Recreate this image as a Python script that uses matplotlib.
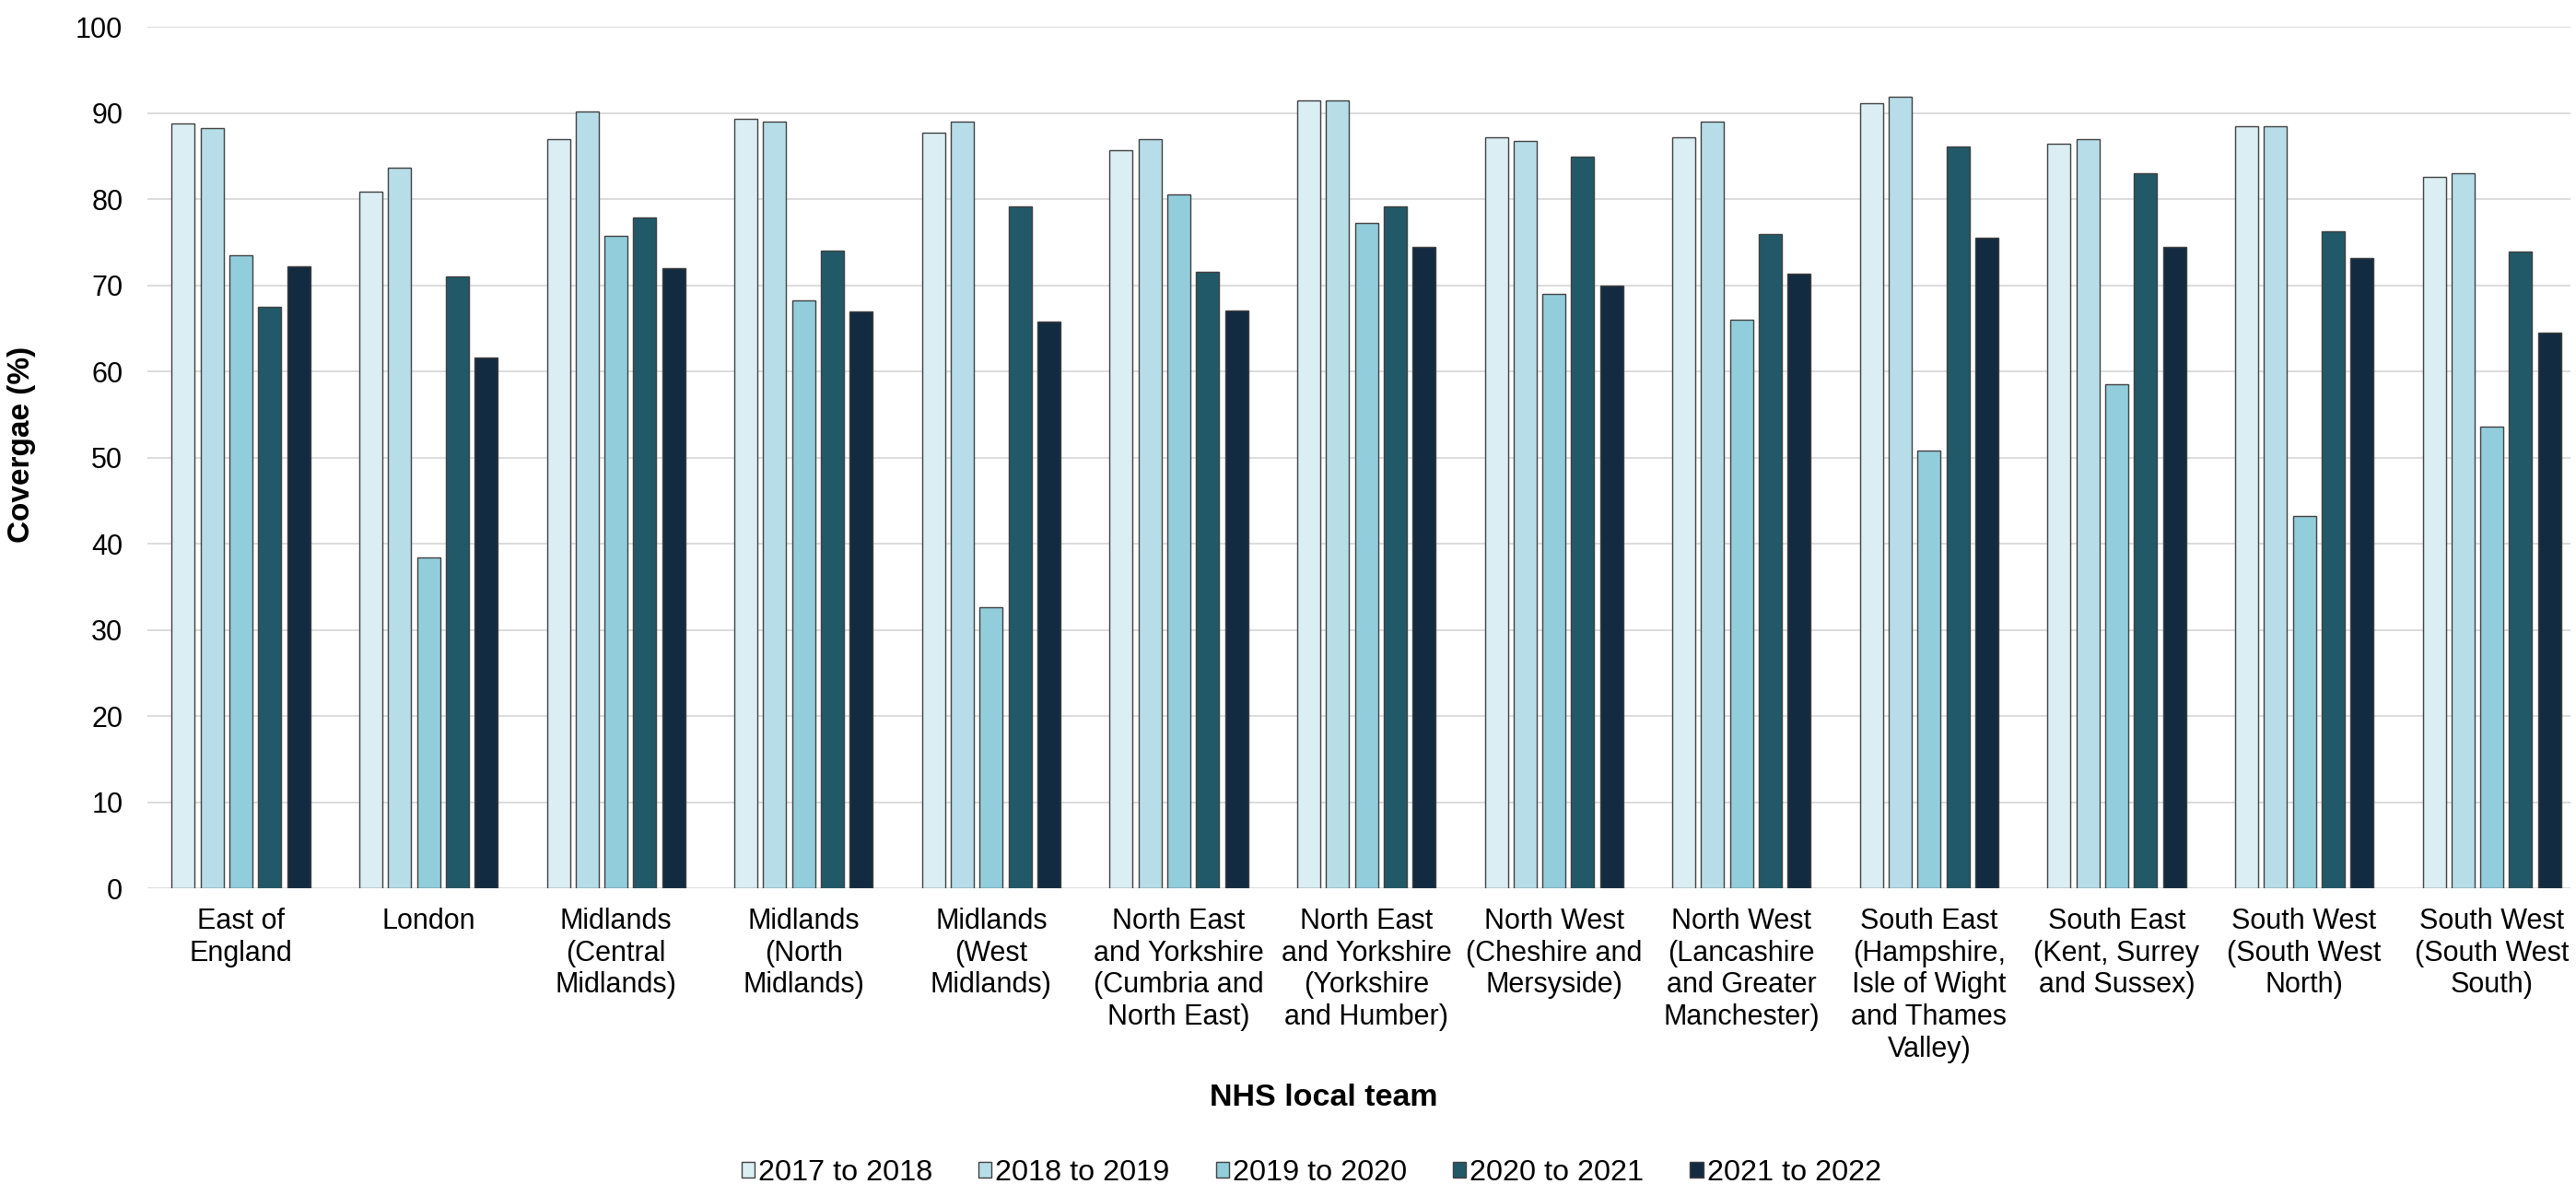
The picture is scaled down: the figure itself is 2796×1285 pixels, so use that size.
import numpy as np
import matplotlib
matplotlib.use("Agg")
import matplotlib.pyplot as plt

plt.rcParams['font.family'] = ['Liberation Sans', 'DejaVu Sans']

teams = [
    "East of\nEngland",
    "London",
    "Midlands\n(Central\nMidlands)",
    "Midlands\n(North\nMidlands)",
    "Midlands\n(West\nMidlands)",
    "North East\nand Yorkshire\n(Cumbria and\nNorth East)",
    "North East\nand Yorkshire\n(Yorkshire\nand Humber)",
    "North West\n(Cheshire and\nMersyside)",
    "North West\n(Lancashire\nand Greater\nManchester)",
    "South East\n(Hampshire,\nIsle of Wight\nand Thames\nValley)",
    "South East\n(Kent, Surrey\nand Sussex)",
    "South West\n(South West\nNorth)",
    "South West\n(South West\nSouth)",
]

years = ["2017 to 2018", "2018 to 2019", "2019 to 2020", "2020 to 2021", "2021 to 2022"]

cov_2017 = [88.8, 80.9, 87.0, 89.3, 87.7, 85.7, 91.5, 87.2, 87.2, 91.1, 86.4, 88.5, 82.6]
cov_2018 = [88.2, 83.7, 90.2, 89.0, 89.0, 87.0, 91.5, 86.7, 89.0, 91.9, 87.0, 88.5, 83.0]
cov_2019 = [73.5, 38.4, 75.7, 68.3, 32.6, 80.5, 77.2, 69.0, 66.0, 50.8, 58.5, 43.2, 53.6]
cov_2020 = [67.5, 71.0, 77.9, 74.0, 79.2, 71.6, 79.2, 84.9, 75.9, 86.1, 83.0, 76.3, 73.9]
cov_2021 = [72.2, 61.6, 72.0, 67.0, 65.8, 67.1, 74.5, 70.0, 71.3, 75.5, 74.5, 73.2, 64.5]

colors = ["#daeef3", "#b7dee8", "#92cddc", "#215968", "#132b41"]

series = [cov_2017, cov_2018, cov_2019, cov_2020, cov_2021]

fig = plt.figure(figsize=(27.96, 12.85), dpi=100)
ax = fig.add_axes([0.0571, 0.2495, 0.9408, 0.7279])

x = np.arange(len(teams))
bar_w = 0.1228
step = 0.1537

for i, vals in enumerate(series):
    ax.bar(
        x + (i - 2) * step,
        vals,
        width=bar_w,
        color=colors[i],
        edgecolor="#404040",
        linewidth=1.0,
        label=years[i],
        zorder=3
    )

ax.set_ylim(0, 100)
ax.set_xlim(-0.5, 12.42)
ax.set_yticks(range(0, 101, 10))

ax.grid(axis='y', color="#d9d9d9", linewidth=1.3, zorder=0)
ax.set_axisbelow(True)

for s in ax.spines.values():
    s.set_visible(False)

ax.set_xticks(x)
ax.set_xticklabels(teams, fontsize=22, linespacing=1.2, ha='center', va='top')
ax.tick_params(axis='x', length=0, pad=15)
ax.tick_params(axis='y', length=0, pad=19, labelsize=22)

ax.set_ylabel("Covergae (%)", fontsize=24, fontweight='bold')
ax.yaxis.set_label_coords(-0.0457, 0.515)

# axis title and legend sit centred under the whole chart, not the axes
fig.text(0.514, 1 - 1192 / 1285, "NHS local team", fontsize=24.5, fontweight='bold',
         ha='center', va='center')

fig.legend(
    loc='center',
    bbox_to_anchor=(0.509, 1 - 1273 / 1285),
    ncol=5,
    frameon=False,
    fontsize=23.3,
    handlelength=0.44,
    handleheight=0.44,
    handletextpad=0.12,
    columnspacing=1.55,
    borderpad=0
)

plt.savefig("out.png", dpi=100)
